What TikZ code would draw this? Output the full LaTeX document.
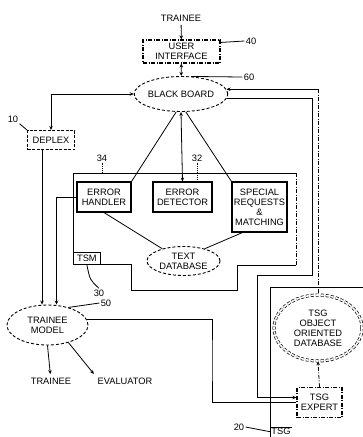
\documentclass[tikz,border=0pt]{standalone}
\usepackage{fontspec}
\setmainfont{Liberation Sans}
\usetikzlibrary{positioning,arrows.meta,calc,shapes.geometric}

\begin{document}
\begin{tikzpicture}[x=1pt, y=-1pt, font=\fontsize{9.3}{10}\selectfont, line width=0.8pt,
  >={Stealth[length=4pt,width=3.5pt]},
  modbox/.style={draw, line width=1.1pt, inner sep=0.5pt, align=center},
  dashbox/.style={draw, dash pattern=on 3pt off 1.5pt, line width=1.1pt, inner sep=0.5pt, align=center},
  dotdashbox/.style={draw, dash pattern=on 4pt off 1.5pt on 1pt off 1.5pt, line width=1.1pt, inner sep=0.5pt, align=center},
  dashell/.style={draw, ellipse, dash pattern=on 3pt off 2pt, line width=0.9pt, inner sep=0pt, align=center},
  refnum/.style={inner sep=1pt},
  dotdash/.style={dash pattern=on 4pt off 1.5pt on 1pt off 1.5pt}]
\useasboundingbox (0,0) rectangle (363,437);
% top part
\node (trtop) at (181,18) {TRAINEE};
\node[dotdashbox, minimum width=77pt, minimum height=23pt] (ui) at (181.5,51.5) {USER\\INTERFACE};
\node[dashell, minimum width=75pt, minimum height=35pt] (bb) at (181,94) {BLACK BOARD};
\node[dashbox, minimum width=47pt, minimum height=19pt] (deplex) at (51,140) {DEPLEX};
\draw[->] (trtop) -- (ui);
\draw[<->] (ui) -- (bb);
\draw[<->] (deplex.north) |- (bb.west);
% TSM frame
\draw (73,265) -- (73,173) -- (296,173);
\draw[dotdash] (296,173) -- (296,265);
\draw (296,265) -- (237,265) -- (237,290) -- (131,290) -- (131,264) -- (100,264);
\node[draw, anchor=south west, minimum width=27pt, minimum height=12pt, inner sep=0pt] (tsm) at (73,265) {TSM};
% modules
\node[modbox, minimum width=54pt, minimum height=30pt] (eh) at (104,197) {ERROR\\HANDLER};
\node[modbox, minimum width=59pt, minimum height=30pt] (ed) at (182.5,197) {ERROR\\DETECTOR};
\node[modbox, minimum width=55pt, minimum height=50pt] (sr) at (259.5,207) {SPECIAL\\REQUESTS\\\&\\MATCHING};
\node[dashell, minimum width=73pt, minimum height=29pt] (tdb) at (183.5,261) {TEXT\\DATABASE};
\draw (bb.-105) -- (eh.north east);
\draw[<->] (bb.south) -- (ed.north);
\draw (bb.-75) -- (sr.north west);
\draw (eh.south) -- (tdb.150);
\draw ([xshift=11pt]sr.south west) -- (tdb.30);
% trainee model
\node[dashell, minimum width=81pt, minimum height=40pt] (tm) at (47.5,325) {TRAINEE\\MODEL};
\node (trbot) at (51,381) {TRAINEE};
\node (eval) at (125,381) {EVALUATOR};
\draw[->] ([xshift=-9pt]deplex.south) -- ([xshift=-9pt]deplex.south |- tm.north);
\draw[->] (eh.west) -| ([xshift=9pt]tm.north);
\draw[->] (tm.south) -- (trbot);
\draw[->] (tm.-40) -- (eval.north west);
% TSG
\node[dashell, double, double distance=1.6pt, line width=0.7pt, minimum width=88pt, minimum height=66pt] (odb) at (318,328) {TSG\\OBJECT\\ORIENTED\\DATABASE};
\node[dotdashbox, minimum width=45pt, minimum height=30pt] (tsgx) at (319.5,402.5) {TSG\\EXPERT};
\coordinate (c1) at (312,275);
\coordinate (c2) at (257,275);
\coordinate (c3) at (212,360);
\draw[<-] (bb.6) -- (bb.6 -| odb.north);
\draw[dotdash] (bb.6 -| odb.north) -- (odb.north);
\draw[->] (bb.-6) -| (c1) -- (c2) |- ([yshift=5pt]tsgx.west);
\draw (tm.8) -| (c3) |- (tsgx.west);
\draw[->, dotdash] (tsgx.north) -- (odb.south);
\node[anchor=north west, inner sep=1pt] (tsg) at (270,427) {TSG};
\draw (270,437) |- (363,287);
\draw (tsg.north west) -- (tsg.north east);
% reference numbers
\node[refnum] (l40) at (251,41) {40};
\node[refnum] (l60) at (249,77) {60};
\node[refnum] (l10) at (13,119) {10};
\node[refnum] (l34) at (102,158) {34};
\node[refnum] (l32) at (197,158) {32};
\node[refnum] (l30) at (99,293) {30};
\node[refnum] (l50) at (106,303) {50};
\node[refnum] (l20) at (239,427) {20};
\draw ([yshift=-3pt]ui.north east) -- (l40.west);
\draw (bb.60) -- (l60.west);
\draw (l10.south east) -- (deplex.north west);
\draw[densely dotted] (l34.south) -- (l34.south |- 0,173);
\draw[densely dotted] (l32.south) -- (l32.south |- ed.north);
\draw (tsm.south) .. controls (90,280) .. (l30.north);
\draw (tm.40) -- (l50.west);
\draw (l20.east) -- (tsg.west);
\end{tikzpicture}
\end{document}
